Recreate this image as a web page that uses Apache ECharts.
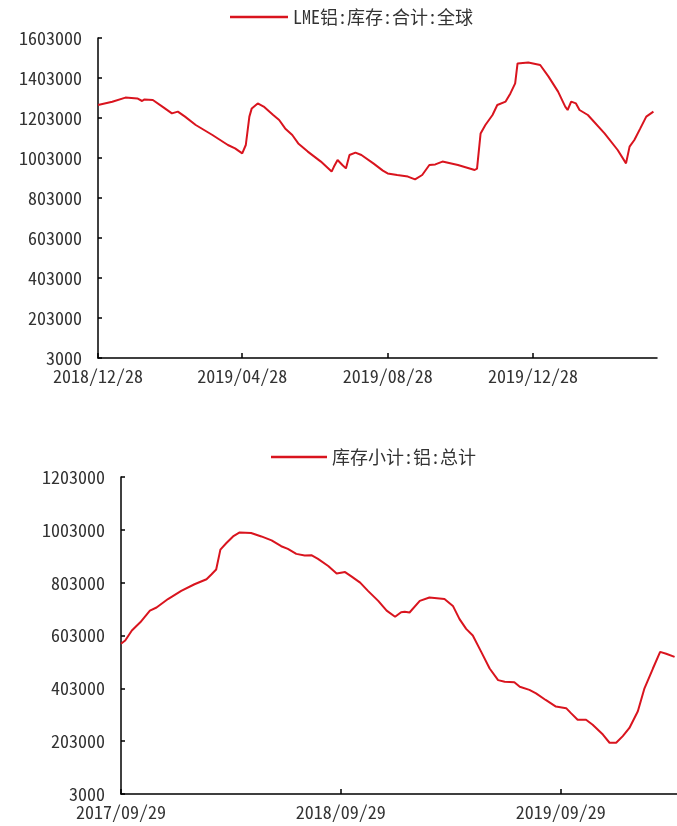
<!DOCTYPE html>
<html><head><meta charset="utf-8">
<script src="https://cdn.jsdelivr.net/npm/echarts@6/dist/echarts.min.js"></script>
<style>html,body{margin:0;padding:0;background:#fff}#c{width:677px;height:826px}</style>
</head><body><div id="c"></div>
<script>
const lmeName = 'LME铝:库存:合计:全球';
const lmeDates = ['2018-12-28','2019-01-09','2019-01-20','2019-01-30','2019-02-03','2019-02-05','2019-02-12','2019-02-20','2019-02-28','2019-03-05','2019-03-11','2019-03-20','2019-04-03','2019-04-16','2019-04-22','2019-04-28','2019-05-01','2019-05-04','2019-05-06','2019-05-11','2019-05-16','2019-05-24','2019-05-29','2019-06-03','2019-06-09','2019-06-14','2019-06-22','2019-07-03','2019-07-12','2019-07-14','2019-07-17','2019-07-21','2019-07-24','2019-07-27','2019-08-01','2019-08-06','2019-08-16','2019-08-24','2019-08-28','2019-09-05','2019-09-14','2019-09-20','2019-09-26','2019-10-02','2019-10-07','2019-10-13','2019-10-26','2019-11-09','2019-11-11','2019-11-14','2019-11-18','2019-11-24','2019-11-28','2019-12-05','2019-12-09','2019-12-13','2019-12-15','2019-12-24','2020-01-03','2020-01-10','2020-01-18','2020-01-24','2020-01-26','2020-01-29','2020-02-02','2020-02-05','2020-02-12','2020-02-26','2020-03-08','2020-03-15','2020-03-18','2020-03-22','2020-03-27','2020-04-01','2020-04-07'];
const lmeValues = [1268000,1284000,1305000,1301000,1288000,1296000,1293000,1260000,1226000,1235000,1210000,1168000,1118000,1068000,1051000,1026000,1068000,1210000,1251000,1276000,1260000,1218000,1193000,1151000,1118000,1076000,1035000,985000,935000,960000,993000,968000,951000,1018000,1030000,1018000,976000,940000,926000,918000,910000,896000,918000,968000,971000,985000,968000,943000,950000,1126000,1168000,1218000,1268000,1285000,1326000,1376000,1476000,1480000,1468000,1410000,1335000,1260000,1243000,1285000,1276000,1243000,1218000,1126000,1043000,976000,1060000,1093000,1151000,1210000,1235000];

const shfeName = '库存小计:铝:总计';
const shfeDates = ['2017-09-29','2017-10-06','2017-10-17','2017-10-31','2017-11-16','2017-11-27','2017-12-16','2018-01-07','2018-01-29','2018-02-18','2018-02-26','2018-03-06','2018-03-13','2018-03-23','2018-04-03','2018-04-14','2018-05-03','2018-05-20','2018-06-06','2018-06-22','2018-07-03','2018-07-17','2018-07-31','2018-08-11','2018-08-22','2018-09-08','2018-09-22','2018-10-06','2018-10-17','2018-10-31','2018-11-13','2018-11-30','2018-12-14','2018-12-28','2019-01-07','2019-01-13','2019-01-21','2019-02-07','2019-02-23','2019-03-20','2019-04-03','2019-04-14','2019-04-25','2019-05-06','2019-05-20','2019-06-03','2019-06-17','2019-06-28','2019-07-14','2019-07-23','2019-08-08','2019-08-19','2019-09-04','2019-09-21','2019-10-08','2019-10-16','2019-10-27','2019-11-10','2019-11-21','2019-12-08','2019-12-19','2019-12-30','2020-01-10','2020-01-21','2020-02-04','2020-02-15','2020-02-29','2020-03-12','2020-03-22','2020-04-05'];
const shfeValues = [572000,584000,622000,653000,697000,709000,741000,772000,797000,816000,834000,853000,928000,953000,978000,993000,991000,978000,963000,941000,931000,912000,906000,907000,893000,866000,838000,843000,826000,803000,772000,734000,697000,674000,691000,693000,690000,734000,747000,741000,715000,665000,628000,603000,541000,478000,434000,428000,426000,409000,397000,384000,359000,334000,328000,309000,284000,284000,265000,228000,197000,197000,222000,253000,316000,403000,478000,541000,534000,522000];

const topYTicks = [3000,203000,403000,603000,803000,1003000,1203000,1403000,1603000];
const bottomYTicks = [3000,203000,403000,603000,803000,1003000,1203000];
const topXTicks = ['2018-12-28','2019-04-28','2019-08-28','2019-12-28'];
const bottomXTicks = ['2017-09-29','2018-09-29','2019-09-29'];
const topXRange = ['2018-12-28','2020-04-10'];
const bottomXRange = ['2017-09-29','2020-04-09'];

function ts(s){const p=s.split('-').map(Number);return new Date(p[0],p[1]-1,p[2]).getTime();}
function pad(n){return (n<10?'0':'')+n;}
function fmt(v){const d=new Date(v);return d.getFullYear()+'/'+pad(d.getMonth()+1)+'/'+pad(d.getDate());}
function pairs(ds,vs){return ds.map((d,i)=>[ts(d),vs[i]]);}

const FONT = "'Noto Sans Mono CJK SC','Noto Sans CJK SC',sans-serif";
const RED = '#d9141e';
const labelStyle = {color:'#333', fontSize:18, fontFamily:FONT};
const axisLineStyle = {show:true, onZero:false, lineStyle:{color:'#000', width:1.5}};

function xAxis(gi, range, ticks){
  const cv = ticks.map(ts);
  return {type:'value', gridIndex:gi, min:ts(range[0]), max:ts(range[1]),
    axisLine:axisLineStyle, splitLine:{show:false},
    axisTick:{show:true, inside:true, length:5, customValues:cv, lineStyle:{color:'#000',width:1.5}},
    axisLabel:Object.assign({customValues:cv, margin:9, formatter:fmt}, labelStyle)};
}
function yAxis(gi, ticks){
  return {type:'value', gridIndex:gi, min:ticks[0], max:ticks[ticks.length-1],
    axisLine:axisLineStyle, splitLine:{show:false},
    axisTick:{show:true, inside:true, length:4, customValues:ticks, lineStyle:{color:'#000',width:1.5}},
    axisLabel:Object.assign({customValues:ticks, margin:16, formatter:v=>String(v)}, labelStyle)};
}

const chart = echarts.init(document.getElementById('c'));
chart.setOption({
  animation:false,
  backgroundColor:'#fff',
  legend:[
    {data:[lmeName], left:230, top:8, padding:0, icon:'rect', itemWidth:58, itemHeight:2.5,
     textStyle:{color:'#333', fontSize:18, fontFamily:FONT}},
    {data:[shfeName], left:271, top:448, padding:0, icon:'rect', itemWidth:56, itemHeight:2.5,
     textStyle:{color:'#333', fontSize:18, fontFamily:FONT}}
  ],
  grid:[
    {left:98, top:38, width:559, height:320},
    {left:121, top:477, width:556, height:317}
  ],
  xAxis:[xAxis(0, topXRange, topXTicks), xAxis(1, bottomXRange, bottomXTicks)],
  yAxis:[yAxis(0, topYTicks), yAxis(1, bottomYTicks)],
  series:[
    {name:lmeName, type:'line', xAxisIndex:0, yAxisIndex:0, symbol:'none',
     data:pairs(lmeDates, lmeValues), itemStyle:{color:RED}, lineStyle:{color:RED, width:2}},
    {name:shfeName, type:'line', xAxisIndex:1, yAxisIndex:1, symbol:'none',
     data:pairs(shfeDates, shfeValues), itemStyle:{color:RED}, lineStyle:{color:RED, width:2}}
  ]
});
</script></body></html>
